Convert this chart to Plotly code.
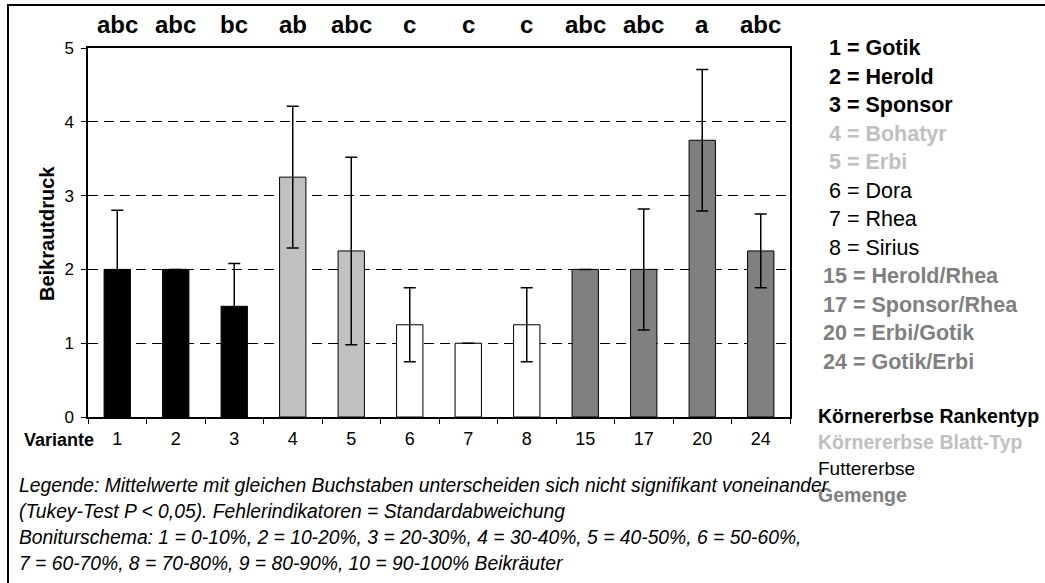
import plotly.graph_objects as go

# ---------------- data ----------------
categories = ["1", "2", "3", "4", "5", "6", "7", "8", "15", "17", "20", "24"]
means = [2.0, 2.0, 1.5, 3.25, 2.25, 1.25, 1.0, 1.25, 2.0, 2.0, 3.75, 2.25]
std_dev = [0.8, 0.0, 0.58, 0.96, 1.27, 0.5, 0.0, 0.5, 0.0, 0.82, 0.96, 0.5]
tukey_letters = ["abc", "abc", "bc", "ab", "abc", "c", "c", "c", "abc", "abc", "a", "abc"]
groups = ["Körnererbse Rankentyp"] * 3 + ["Körnererbse Blatt-Typ"] * 2 + \
         ["Futtererbse"] * 3 + ["Gemenge"] * 4
variety_labels = ["1 = Gotik", "2 = Herold", "3 = Sponsor", "4 = Bohatyr", "5 = Erbi",
                  "6 = Dora", "7 = Rhea", "8 = Sirius", "15 = Herold/Rhea",
                  "17 = Sponsor/Rhea", "20 = Erbi/Gotik", "24 = Gotik/Erbi"]
group_names = ["Körnererbse Rankentyp", "Körnererbse Blatt-Typ", "Futtererbse", "Gemenge"]
notes = [
    "Legende: Mittelwerte mit gleichen Buchstaben unterscheiden sich nicht signifikant voneinander",
    "(Tukey-Test P < 0,05). Fehlerindikatoren = Standardabweichung",
    "Boniturschema: 1 = 0-10%, 2 = 10-20%, 3 = 20-30%, 4 = 30-40%, 5 = 40-50%, 6 = 50-60%,",
    "7 = 60-70%, 8 = 70-80%, 9 = 80-90%, 10 = 90-100% Beikräuter",
]
y_title = "Beikrautdruck"
x_title = "Variante"

# ---------------- styles ----------------
W, H = 1045, 583
L, R, T, B = 88, 790, 48, 417
FONT = "Liberation Sans, Arial, sans-serif"
bar_fill = {"Körnererbse Rankentyp": "#000000", "Körnererbse Blatt-Typ": "#C0C0C0",
            "Futtererbse": "#FFFFFF", "Gemenge": "#808080"}
text_color = {"Körnererbse Rankentyp": "#000000", "Körnererbse Blatt-Typ": "#C0C0C0",
              "Futtererbse": "#000000", "Gemenge": "#808080"}
text_bold = {"Körnererbse Rankentyp": True, "Körnererbse Blatt-Typ": True,
             "Futtererbse": False, "Gemenge": True}


def px(xp):
    return (xp - L) / (R - L)


def py(yp):
    return (B - yp) / (B - T)


def fmt(s, bold):
    return f"<b>{s}</b>" if bold else s


fig = go.Figure()
fig.add_trace(go.Bar(
    x=categories, y=means,
    marker=dict(color=[bar_fill[g] for g in groups], line=dict(color="#000000", width=1)),
    error_y=dict(type="data", array=std_dev, visible=True, color="#000000",
                 thickness=1.5, width=6),
    showlegend=False, hoverinfo="x+y",
))

annotations = []
# Tukey letters above bars (category index positions)
for i, s in enumerate(tukey_letters):
    annotations.append(dict(x=i, xref="x", y=py(25), yref="paper", text=f"<b>{s}</b>",
                            showarrow=False, xanchor="center", yanchor="middle",
                            font=dict(family=FONT, size=24, color="#000000")))
# variety legend on the right
for i, (lab, g) in enumerate(zip(variety_labels, groups)):
    t = lab if len(lab.split(" ")[0]) > 1 else "\u00a0" + lab
    annotations.append(dict(x=px(821), xref="paper", y=py(48 + 28.5 * i), yref="paper",
                            text=fmt(t, text_bold[g]), showarrow=False,
                            xanchor="left", yanchor="middle",
                            font=dict(family=FONT, size=21.5, color=text_color[g])))
# group legend
for i, g in enumerate(group_names):
    annotations.append(dict(x=px(816), xref="paper", y=py(416 + 26.3 * i), yref="paper",
                            text=fmt(g, text_bold[g]), showarrow=False,
                            xanchor="left", yanchor="middle",
                            font=dict(family=FONT, size=19.5 if text_bold[g] else 19,
                                      color=text_color[g])))
# notes
for i, n in enumerate(notes):
    annotations.append(dict(x=px(17), xref="paper", y=py(485 + 26.3 * i), yref="paper",
                            text=f"<i>{n}</i>", showarrow=False,
                            xanchor="left", yanchor="middle",
                            font=dict(family=FONT, size=19.3, color="#000000")))
# axis titles
annotations.append(dict(x=px(96), xref="paper", y=py(440), yref="paper",
                        text=f"<b>{x_title}</b>", showarrow=False,
                        xanchor="right", yanchor="middle",
                        font=dict(family=FONT, size=18, color="#000000")))
annotations.append(dict(x=px(47), xref="paper", y=py(234), yref="paper",
                        text=f"<b>{y_title}</b>", showarrow=False, textangle=-90,
                        xanchor="center", yanchor="middle",
                        font=dict(family=FONT, size=20, color="#000000")))

shapes = [dict(type="rect", xref="paper", yref="paper",
               x0=px(8), x1=px(1060), y0=py(600), y1=py(5),
               line=dict(color="#000000", width=2), fillcolor="rgba(0,0,0,0)", layer="below")]

fig.update_layout(
    width=W, height=H,
    margin=dict(l=L, r=W - R, t=T, b=H - B, pad=0),
    paper_bgcolor="#FFFFFF", plot_bgcolor="#FFFFFF",
    bargap=0.55,
    font=dict(family=FONT, size=17, color="#000000"),
    annotations=annotations, shapes=shapes,
    xaxis=dict(type="category", range=[-0.5, len(categories) - 0.5], autorange=False,
               tickson="boundaries", ticks="outside", ticklen=5, tickangle=0,
               ticklabelstandoff=5,
               tickcolor="#000000", showline=True, linecolor="#000000", linewidth=1.5,
               mirror=True, showgrid=False, tickfont=dict(family=FONT, size=18),
               fixedrange=True),
    yaxis=dict(range=[0, 5], dtick=1, tick0=0, ticks="outside", ticklen=5,
               ticklabelstandoff=4,
               tickcolor="#000000", showline=True, linecolor="#000000", linewidth=1.5,
               mirror=True, showgrid=True, gridcolor="#000000", gridwidth=1,
               griddash="10px,6px", zeroline=False, tickfont=dict(family=FONT, size=17),
               fixedrange=True),
)

fig.write_html("out.html", config={"displayModeBar": False},
               post_script="document.body.style.margin='0';document.body.style.overflow='hidden';")
